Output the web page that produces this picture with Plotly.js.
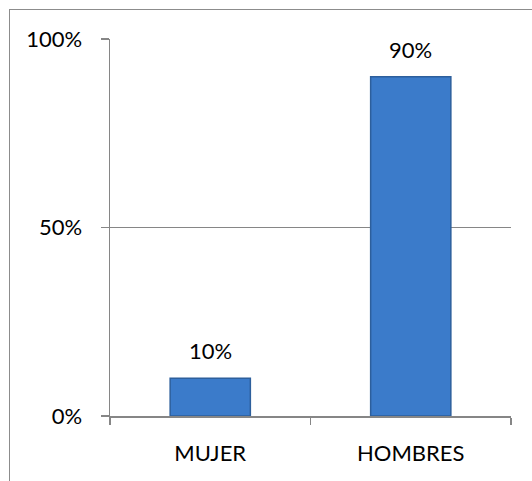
<!DOCTYPE html>
<html>
<head>
<meta charset="utf-8">
<script src="https://cdn.plot.ly/plotly-3.0.1.min.js"></script>
<style>
html,body{margin:0;padding:0;background:#fff;}
#wrap{position:relative;width:532px;height:481px;overflow:hidden;}
#frame{position:absolute;left:9px;top:9px;width:540px;height:500px;border-left:1px solid #8c8c8c;border-top:1px solid #8c8c8c;pointer-events:none;}
#chart{position:absolute;left:0;top:0;width:532px;height:481px;}
</style>
</head>
<body>
<div id="wrap"><div id="chart"></div><div id="frame"></div></div>
<script>
const categories = ["MUJER", "HOMBRES"];
const values = [0.10, 0.90];
const valueLabels = ["10%", "90%"];
const yTickVals = [0, 0.5, 1];
const yTickText = ["0%", "50%", "100%"];

const font = {family: "Lato, 'Open Sans', sans-serif", size: 22, color: "#000"};

const trace = {
  type: "bar",
  x: categories,
  y: values,
  width: 0.4,
  marker: {color: "#3b7bca", line: {color: "#2d5f9c", width: 1.5}},
  hoverinfo: "none"
};

const annotations = categories.map((c, i) => ({
  x: c, y: values[i], text: valueLabels[i], showarrow: false,
  yanchor: "bottom", yshift: 12, font: font
}));

const layout = {
  width: 532, height: 481,
  margin: {l: 110, r: 21, t: 39, b: 65},
  paper_bgcolor: "#fff", plot_bgcolor: "#fff",
  showlegend: false,
  font: font,
  bargap: 0.6,
  xaxis: {
    type: "category",
    showline: true, linecolor: "#868686", linewidth: 1.5,
    ticks: "outside", tickson: "boundaries", ticklen: 7, tickcolor: "#868686", tickwidth: 1.5,
    showgrid: false, zeroline: false,
    ticklabelstandoff: 17,
    tickfont: font
  },
  yaxis: {
    range: [0, 1],
    tickvals: yTickVals, ticktext: yTickText,
    showline: true, linecolor: "#868686", linewidth: 1.5,
    ticks: "outside", ticklen: 8, tickcolor: "#868686", tickwidth: 1.5,
    showgrid: true, gridcolor: "#868686", gridwidth: 1.5,
    zeroline: false,
    ticklabelstandoff: 14,
    tickfont: font
  },
  annotations: annotations
};

Plotly.newPlot("chart", [trace], layout, {staticPlot: true, displayModeBar: false});
</script>
</body>
</html>
